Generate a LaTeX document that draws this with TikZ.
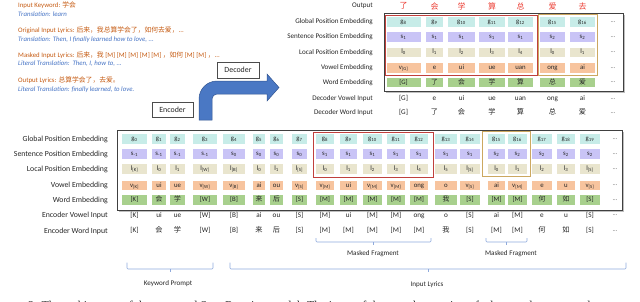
\documentclass[tikz,border=0pt]{standalone}
\usepackage{fontspec}
\setmainfont{Carlito}
\newfontfamily\cjk{Noto Sans CJK SC}
\newfontfamily\capfont{Liberation Serif}
\usetikzlibrary{shadows}
\definecolor{orangetxt}{RGB}{197,90,17}
\definecolor{bluetxt}{RGB}{68,114,196}
\definecolor{gcol}{RGB}{199,236,232}
\definecolor{scol}{RGB}{201,196,246}
\definecolor{lcol}{RGB}{233,229,206}
\definecolor{vcol}{RGB}{247,196,158}
\definecolor{wcol}{RGB}{168,208,141}
\definecolor{redbox}{RGB}{192,64,60}
\definecolor{tanbox}{RGB}{204,168,96}
\definecolor{outred}{RGB}{235,60,50}
\definecolor{arrowfill}{RGB}{74,120,196}
\definecolor{arrowedge}{RGB}{50,85,145}
\definecolor{bracecol}{RGB}{143,170,220}
\newcommand\fs[1]{\fontsize{#1}{#1}\selectfont}
\newcommand\zh[1]{{\cjk #1}}
\newcommand\mkg[1]{g\textsubscript{#1}}
\newcommand\mks[1]{s\textsubscript{#1}}
\newcommand\mkl[1]{l\textsubscript{#1}}
\newcommand\mkv[1]{v\textsubscript{#1}}
\begin{document}
\begin{tikzpicture}[x=1pt,y=-1pt,
  every node/.style={inner sep=0pt},
  cell/.style={minimum height=9.5pt, inner sep=0pt, text height=4.9pt, text depth=1.6pt, font=\fs{6.8}, text=black!85},
  gcell/.style={cell, fill=gcol},
  scell/.style={cell, fill=scol},
  lcell/.style={cell, fill=lcol},
  vcell/.style={cell, fill=vcol},
  wcell/.style={cell, fill=wcol},
  elab/.style={anchor=east, font=\fs{7.8}, text=black!85},
  dlab/.style={anchor=east, font=\fs{7.1}, text=black!85},
  inp/.style={font=\fs{7.2}, text height=5.2pt, text depth=1.7pt, text=black!85},
  dots/.style={font=\fs{6.5}, text=black!60},
  ortxt/.style={anchor=west, font=\fs{6.8}, text=orangetxt},
  bltxt/.style={anchor=west, font=\fs{6.8}\itshape, text=bluetxt},
  tagbox/.style={draw=black!70, fill=white, font=\fs{7.9}, text=black!85, drop shadow={shadow xshift=1pt, shadow yshift=-1pt, opacity=0.35}},
  frame/.style={draw=black!75, fill=white, line width=0.8pt},
  hilite/.style={line width=0.8pt},
  bracket/.style={draw=bracecol, line width=0.6pt, rounded corners=1pt},
  note/.style={font=\fs{7.1}, text=black!85}
]
\useasboundingbox (0,0) rectangle (640,301);
\clip (0,0) rectangle (640,301);

% ---------- left text ----------
\node[ortxt] (t1) at (18,5.5) {Input Keyword: \zh{学会}};
\node[bltxt] (t2) at (18,14.5) {Translation: learn};
\node[ortxt] (t3) at (18,30.5) {Original Input Lyrics: \zh{后来，我总算学会了，如何去爱，}...};
\node[bltxt] (t4) at (18,39.5) {Translation: Then, I finally learned how to love, ...};
\node[ortxt] (t5) at (18,55.5) {Masked Input Lyrics: \zh{后来，我} [M] [M] [M] [M] [M] \zh{，如何} [M] [M] \zh{，}...};
\node[bltxt] (t6) at (18,64) {Literal Translation:\ \ Then, I, how to, ...};
\node[ortxt] (t7) at (18,80.5) {Output Lyrics: \zh{总算学会了，去爱。}};
\node[bltxt] (t8) at (18,89.5) {Literal Translation: finally learned, to love.};

% ---------- bent arrow ----------
\filldraw[fill=arrowfill, draw=arrowedge, line width=0.5pt]
  (199,120) -- (199,99) arc[start angle=180, end angle=90, radius=18pt]
  -- (267,81) -- (267,74) -- (279,87.5) -- (267,101) -- (267,94)
  -- (217,94) arc[start angle=90, end angle=180, radius=5pt]
  -- (212,120) -- cycle;

\node[tagbox, minimum width=42pt, minimum height=16pt] (dec) at (238,70) {Decoder};
\node[tagbox, minimum width=41pt, minimum height=15pt] (enc) at (172.5,109.5) {Encoder};

% ---------- decoder ----------
\fill[black!25] (385.5,14.5) rectangle (624.5,92.5);
\draw[frame] (384,13) rectangle (623,91);

\node[dlab] (dlo) at (373,6) {Output};
\node[dlab] (dlg) at (373,22) {Global Position Embedding};
\node[dlab] (dls) at (373,37) {Sentence Position Embedding};
\node[dlab] (dll) at (373,52.3) {Local Position Embedding};
\node[dlab] (dlv) at (373,68) {Vowel Embedding};
\node[dlab] (dlw) at (373,82.5) {Word Embedding};
\node[dlab] (dlvi) at (373,99) {Decoder Vowel Input};
\node[dlab] (dlwi) at (373,113) {Decoder Word Input};

\foreach \i/\x/\w/\g/\s/\l/\v/\t/\vi/\ti/\o in {
  0/403.5/34/8/1/0/{\mkv{[G]}}/{[G]}/{[G]}/{[G]}/了,
  1/434.5/17/9/1/1/e/{\zh{了}}/e/{\zh{了}}/会,
  2/461.5/27/10/1/2/ui/{\zh{会}}/ui/{\zh{会}}/学,
  3/492/26/11/1/3/ue/{\zh{学}}/ue/{\zh{学}}/算,
  4/520.5/25/12/1/4/uan/{\zh{算}}/uan/{\zh{算}}/总,
  5/552.5/25/15/2/0/ong/{\zh{总}}/ong/{\zh{总}}/爱,
  6/582.5/25/16/2/1/ai/{\zh{爱}}/ai/{\zh{爱}}/去}{
  \node[font=\fs{8}\cjk, text=outred] (do\i) at (\x,6) {\o};
  \node[gcell, minimum width=\w pt] (dg\i) at (\x,22) {\mkg{\g}};
  \node[scell, minimum width=\w pt] (ds\i) at (\x,37) {\mks{\s}};
  \node[lcell, minimum width=\w pt] (dl\i) at (\x,52.3) {\mkl{\l}};
  \node[vcell, minimum width=\w pt] (dv\i) at (\x,68) {\v};
  \node[wcell, minimum width=\w pt] (dw\i) at (\x,82.5) {\t};
  \node[inp] (dvi\i) at (\x,99) {\vi};
  \node[inp] (dwi\i) at (\x,113) {\ti};
}
\foreach \y/\n in {22/a,37/b,52.3/c,68/d,82.5/e,99/f,113/g}{
  \node[dots] (ddot\n) at (613,\y) {...};
}
\draw[redbox, hilite] (385.5,15) rectangle (537,75);
\draw[tanbox, hilite] (538.5,14.5) rectangle (597,75);

% ---------- encoder ----------
\fill[black!25] (118.5,131.5) rectangle (623.5,211.5);
\draw[frame] (117,130) rectangle (622,210);

\node[elab] (elg) at (108,139) {Global Position Embedding};
\node[elab] (els) at (108,154) {Sentence Position Embedding};
\node[elab] (ell) at (108,169) {Local Position Embedding};
\node[elab] (elv) at (108,185.5) {Vowel Embedding};
\node[elab] (elw) at (108,200) {Word Embedding};
\node[elab] (elvi) at (108,215.5) {Encoder Vowel Input};
\node[elab] (elwi) at (108,231) {Encoder Word Input};

\foreach \i/\x/\w/\s/\l/\v/\t/\vi in {
  0/134.5/25/-1/{[K]}/{\mkv{[K]}}/{[K]}/{[K]},
  1/159/14/-1/0/ui/{\zh{会}}/ui,
  2/177.5/15/-1/1/ue/{\zh{学}}/ue,
  3/205/24/-1/{[W]}/{\mkv{[W]}}/{[W]}/{[W]},
  4/234/22/0/{[B]}/{\mkv{[B]}}/{[B]}/{[B]},
  5/259/12/0/0/ai/{\zh{来}}/ai,
  6/276.5/13/0/1/ou/{\zh{后}}/ou,
  7/299.5/15/0/{[S]}/{\mkv{[S]}}/{[S]}/{[S]},
  8/325/18/1/0/{\mkv{[M]}}/{[M]}/{[M]},
  9/348.5/17/1/1/ui/{[M]}/ui,
  10/372.5/19/1/2/{\mkv{[M]}}/{[M]}/{[M]},
  11/396/18/1/3/{\mkv{[M]}}/{[M]}/{[M]},
  12/419/18/1/4/ong/{[M]}/ong,
  13/446/22/1/5/o/{\zh{我}}/o,
  14/470/20/1/{[S]}/{\mkv{[S]}}/{[S]}/{[S]},
  15/496.5/17/2/0/ai/{[M]}/ai,
  16/517.5/19/2/1/{\mkv{[M]}}/{[M]}/{[M]},
  17/542/20/2/2/e/{\zh{何}}/e,
  18/566/18/2/3/u/{\zh{如}}/u,
  19/590/20/2/{[S]}/{\mkv{[S]}}/{[S]}/{[S]}}{
  \node[gcell, minimum width=\w pt] (eg\i) at (\x,139) {\mkg{\i}};
  \node[scell, minimum width=\w pt] (es\i) at (\x,154) {\mks{\s}};
  \node[lcell, minimum width=\w pt] (el\i) at (\x,169) {\mkl{\l}};
  \node[vcell, minimum width=\w pt] (ev\i) at (\x,185.5) {\v};
  \node[wcell, minimum width=\w pt] (ew\i) at (\x,200) {\t};
  \node[inp] (evi\i) at (\x,215.5) {\vi};
  \node[inp] (ewi\i) at (\x,231) {\t};
}
\foreach \y/\n in {139/a,154/b,169/c,185.5/d,200/e,215.5/f,231/g}{
  \node[dots] (edot\n) at (615,\y) {...};
}
\draw[redbox, hilite] (313,132) rectangle (433,177.5);
\draw[tanbox, hilite] (482,131.5) rectangle (530,176);

% ---------- brackets ----------
\coordinate (mf1L) at (316,238);  \coordinate (mf1R) at (431,238);  \coordinate (mf1M) at (373,242);
\coordinate (mf2L) at (486,238);  \coordinate (mf2R) at (527,238);  \coordinate (mf2M) at (506.5,242);
\coordinate (kpL) at (127,262.5); \coordinate (kpR) at (213,262.5); \coordinate (kpM) at (170,269);
\coordinate (ilL) at (230,262.5); \coordinate (ilR) at (626,262.5); \coordinate (ilM) at (428,269);
\draw[bracket] (mf1L) |- (mf1M) -| (mf1R);
\draw[bracecol, line width=0.6pt] (mf1M) -- ++(0,2.5);
\draw[bracket] (mf2L) |- (mf2M) -| (mf2R);
\draw[bracecol, line width=0.6pt] (mf2M) -- ++(0,2.5);
\draw[bracket] (kpL) |- (kpM) -| (kpR);
\draw[bracecol, line width=0.6pt] (kpM) -- ++(0,3);
\draw[bracket] (ilL) |- (ilM) -| (ilR);
\draw[bracecol, line width=0.6pt] (ilM) -- ++(0,3);

\node[note] (mfl1) at (373,254) {Masked Fragment};
\node[note] (mfl2) at (511,254) {Masked Fragment};
\node[note] (kpl) at (168,284) {Keyword Prompt};
\node[note] (ill) at (427,285) {Input Lyrics};

% ---------- clipped caption ----------
\node[anchor=base west, font=\capfont\fs{12}, text=black!85] (cap) at (28,309)
  {2: The architecture of the proposed SongRewriter model. The input of the encoder consists of a keyword prompt and};
\end{tikzpicture}
\end{document}
